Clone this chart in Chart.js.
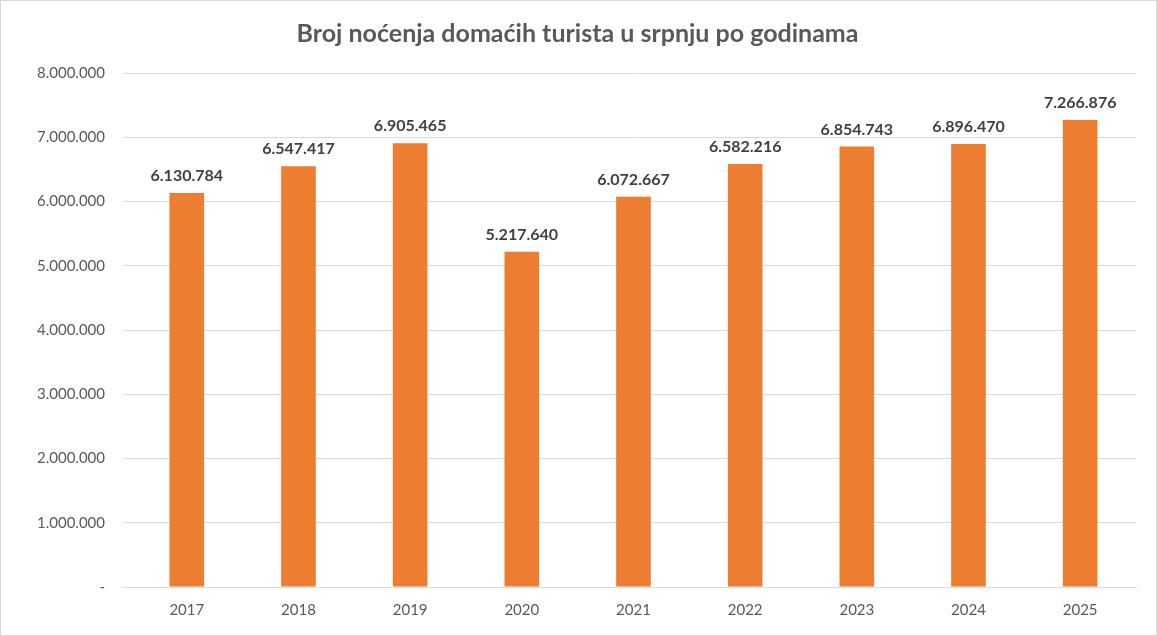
<!DOCTYPE html>
<html><head><meta charset="utf-8">
<script src="https://cdn.jsdelivr.net/npm/chart.js@4"></script>
<style>html,body{margin:0;padding:0;background:#fff}#w{width:1155px;height:634px;border:1px solid #d9d9d9}</style>
</head><body><div id="w"><canvas id="c"></canvas></div>
<script>
const categories=["2017","2018","2019","2020","2021","2022","2023","2024","2025"];
const values=[6130784,6547417,6905465,5217640,6072667,6582216,6854743,6896470,7266876];
const fmt=v=>v===0?"-":v.toString().replace(/\B(?=(\d{3})+(?!\d))/g,".");
const labelsPlugin={id:'lbl',afterDatasetsDraw(chart){const ctx=chart.ctx;const m=chart.getDatasetMeta(0);ctx.save();ctx.font='bold 16px Lato';ctx.fillStyle='#404040';ctx.textAlign='center';ctx.textBaseline='bottom';m.data.forEach((b,i)=>{ctx.fillText(fmt(values[i]),b.x,b.y-9);});ctx.restore();}};
new Chart(document.getElementById('c'),{type:'bar',data:{labels:categories,datasets:[{data:values,backgroundColor:'#ED7D31',categoryPercentage:1,barPercentage:0.31}]},
options:{responsive:true,maintainAspectRatio:false,animation:false,layout:{padding:{left:18,right:20,top:0,bottom:10}},
plugins:{legend:{display:false},tooltip:{enabled:false},title:{display:true,text:'Broj noćenja domaćih turista u srpnju po godinama',color:'#595959',font:{family:'Lato',size:25,weight:'bold'},padding:{top:18,bottom:24}}},
scales:{x:{grid:{display:false},border:{color:'#d9d9d9'},ticks:{color:'#595959',font:{family:'Lato',size:15},padding:6}},
y:{min:0,max:8000000,ticks:{stepSize:1000000,color:'#595959',font:{family:'Lato',size:15},padding:18,callback:v=>fmt(v)},grid:{color:'#d9d9d9'},border:{display:false}}}},plugins:[labelsPlugin]});
</script></body></html>
